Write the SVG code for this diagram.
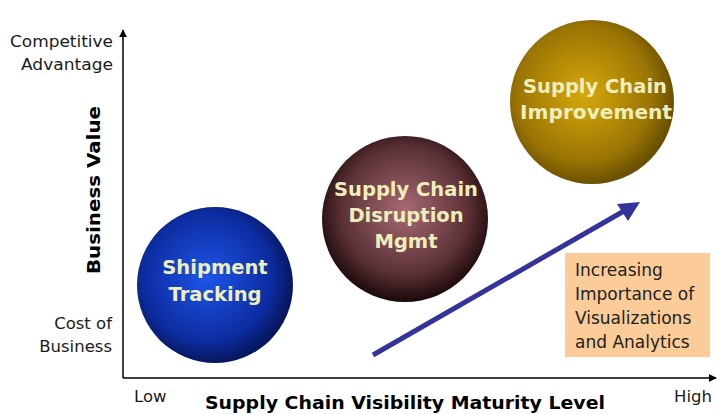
<svg xmlns="http://www.w3.org/2000/svg" width="717" height="415" viewBox="0 0 717 415">
<style>
.lbl{font-family:"DejaVu Sans",Verdana,sans-serif;font-size:16.5px;fill:#1a1a1a}
.ax{font-family:"DejaVu Sans",Verdana,sans-serif;font-size:17px;font-weight:bold;fill:#000}
.nt{font-family:"DejaVu Sans",Verdana,sans-serif;font-size:19.5px;font-weight:bold;fill:#eeeebb;text-anchor:middle}
.bx{font-family:"DejaVu Sans",Verdana,sans-serif;font-size:17px;fill:#222}
</style>
<defs>
<radialGradient id="gb" cx="0.45" cy="0.45" r="0.55"><stop offset="0" stop-color="#1e55e8"/><stop offset="0.75" stop-color="#0c2ca0"/><stop offset="1" stop-color="#07175e"/></radialGradient>
<radialGradient id="gm" cx="0.5" cy="0.45" r="0.55"><stop offset="0" stop-color="#a86a74"/><stop offset="0.7" stop-color="#5a3036"/><stop offset="1" stop-color="#1a0808"/></radialGradient>
<radialGradient id="gg" cx="0.45" cy="0.45" r="0.55"><stop offset="0" stop-color="#d6a80c"/><stop offset="0.75" stop-color="#9a7404"/><stop offset="1" stop-color="#6a5000"/></radialGradient>
<marker id="ah" viewBox="0 0 10 10" refX="9" refY="5" markerWidth="8" markerHeight="8" orient="auto" markerUnits="userSpaceOnUse"><path d="M0,0 L10,5 L0,10 z" fill="#000"/></marker>
</defs>
<g id="axes">
<line x1="123" y1="378" x2="123" y2="30" stroke="#000" stroke-width="1.5" marker-end="url(#ah)"/>
<line x1="123" y1="378" x2="716" y2="378" stroke="#000" stroke-width="1.5" marker-end="url(#ah)"/>
<text class="lbl" x="113" y="47" text-anchor="end" textLength="103" lengthAdjust="spacingAndGlyphs">Competitive</text>
<text class="lbl" x="113" y="70" text-anchor="end" textLength="92" lengthAdjust="spacingAndGlyphs">Advantage</text>
<text class="lbl" x="112" y="329" text-anchor="end">Cost of</text>
<text class="lbl" x="112" y="352" text-anchor="end">Business</text>
<text class="lbl" x="134" y="402">Low</text>
<text class="lbl" x="674" y="402">High</text>
<text class="ax" x="405" y="409" text-anchor="middle" textLength="400" lengthAdjust="spacingAndGlyphs">Supply Chain Visibility Maturity Level</text>
<text class="ax" transform="translate(100,190) rotate(-90)" text-anchor="middle" textLength="168" lengthAdjust="spacingAndGlyphs">Business Value</text>
</g>
<g id="shipment">
<circle cx="215" cy="285" r="78" fill="url(#gb)"/>
<text class="nt" x="215" y="274">Shipment</text>
<text class="nt" x="215" y="301">Tracking</text>
</g>
<g id="disruption">
<circle cx="405" cy="219" r="83" fill="url(#gm)"/>
<text class="nt" x="406" y="196">Supply Chain</text>
<text class="nt" x="406" y="222">Disruption</text>
<text class="nt" x="406" y="248">Mgmt</text>
</g>
<g id="improvement">
<circle cx="592" cy="102" r="82" fill="url(#gg)"/>
<text class="nt" x="595" y="93">Supply Chain</text>
<text class="nt" x="596" y="119" textLength="152" lengthAdjust="spacingAndGlyphs">Improvement</text>
</g>
<g id="connectors">
<line x1="373" y1="355" x2="624" y2="211" stroke="#33339a" stroke-width="5"/>
<path d="M640,202 L617,204 L628,221 z" fill="#33339a"/>
</g>
<g id="note">
<rect x="565" y="253" width="145" height="104" fill="#fbcb98"/>
<text class="bx" x="575" y="276">Increasing</text>
<text class="bx" x="575" y="300">Importance of</text>
<text class="bx" x="575" y="324">Visualizations</text>
<text class="bx" x="575" y="348">and Analytics</text>
</g>
</svg>
